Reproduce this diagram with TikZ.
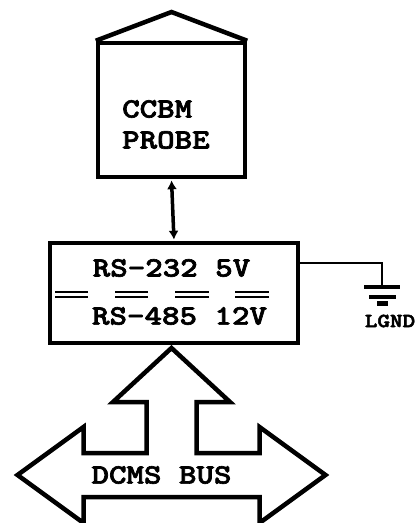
\documentclass[tikz,border=0pt]{standalone}
\usepackage{fontspec}
\newfontfamily\courb{lmmonolt10-bold.otf}[FakeBold=2.2]
\newcommand{\sx}[1]{\scalebox{1.19}[1]{#1}}
\usetikzlibrary{arrows.meta}
\begin{document}
\begin{tikzpicture}[x=1pt,y=-1pt,
  box/.style={draw, line width=4.5pt, inner sep=0pt},
  lbl/.style={font=\courb\fontsize{28}{32}\selectfont, inner sep=0pt},
  small/.style={font=\courb\fontsize{20}{22}\selectfont, inner sep=0pt},
  wire/.style={line width=2.2pt},
  bar/.style={line width=4.5pt},
  dbl/.style={line width=2pt},
  bigarrow/.style={draw, line width=4.5pt, line join=miter}
]
\useasboundingbox (0,0) rectangle (415,523);
% probe house
\node[box, minimum width=147pt, minimum height=134pt] (probe) at (171.5,110) {};
\draw[line width=4.5pt, line join=miter] (probe.north west) -- (171.5,12) -- (probe.north east);
\node[lbl, anchor=west] (ccbm) at (122,109) {\sx{CCBM}};
\node[lbl, anchor=west] (probetxt) at (122,140) {\sx{PROBE}};
% interface box
\node[box, minimum width=248pt, minimum height=100pt] (iface) at (174,293) {};
\node[lbl] (rs232) at (171.5,268) {\sx{RS-232 5V}};
\node[lbl] (rs485) at (179.5,316) {\sx{RS-485 12V}};
\foreach \a/\b in {55/88,115/148,175/209,235/269}{
  \draw[dbl] (\a,292) -- (\b,292);
  \draw[dbl] (\a,296.5) -- (\b,296.5);
}
% link probe - interface
\draw[line width=3.5pt, {Latex[length=9pt,width=10pt]}-{Latex[length=9pt,width=10pt]}, shorten <=1pt, shorten >=1pt] (probe.south) -- (iface.north);
% ground
\coordinate (gnd) at (382,287);
\draw[wire] ([yshift=30pt]iface.east) -| (gnd);
\draw[bar] (364,287) -- (400,287);
\draw[bar] (369,297) -- (396,297);
\draw[bar] (377,303.7) -- (388,303.7);
\node[small] (lgnd) at (390,321) {\scalebox{1.2}[1]{LGND}};
% bus arrow
\draw[bigarrow] (171.5,348) -- (230,402) -- (196.5,402) -- (196.5,453) -- (259.5,453) -- (259.5,427)
  -- (325.5,475) -- (259.5,523) -- (259.5,497) -- (83.5,497) -- (83.5,523) -- (17.5,475)
  -- (83.5,427) -- (83.5,453) -- (146.5,453) -- (146.5,402) -- (113,402) -- cycle;
\node[lbl] (bus) at (161.5,475) {\sx{DCMS BUS}};
\end{tikzpicture}
\end{document}
